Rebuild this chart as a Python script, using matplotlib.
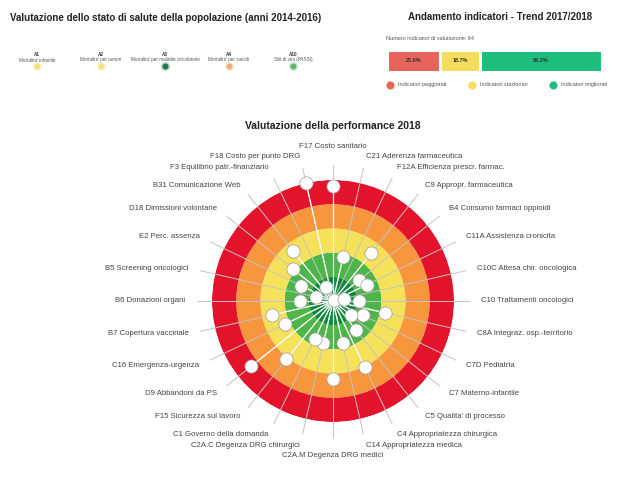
import numpy as np
from matplotlib import pyplot as plt

# dati del bersaglio (punteggio 0-5, 5 = centro)
indicatori = ['F17 Costo sanitario', 'C21 Aderenza farmaceutica', 'F12A Efficienza prescr. farmac.',
              'C9 Appropr. farmaceutica', 'B4 Consumo farmaci oppioidi', 'C11A Assistenza cronicita',
              'C10C Attesa chir. oncologica', 'C10 Trattamenti oncologici', 'C8A Integraz. osp.-territorio',
              'C7D Pediatria', 'C7 Materno-infantile', "C5 Qualita' di processo",
              'C4 Appropriatezza chirurgica', 'C14 Appropriatezza medica', 'C2A.M Degenza DRG medici',
              'C2A.C Degenza DRG chirurgici', 'C1 Governo della domanda', 'F15 Sicurezza sul lavoro',
              'D9 Abbandoni da PS', 'C16 Emergenza-urgenza', 'B7 Copertura vaccinale',
              'B6 Donazioni organi', 'B5 Screening oncologici', 'E2 Perc. assenza',
              'D18 Dimissioni volontarie', 'B31 Comunicazione Web', 'F3 Equilibrio patr.-finanziario',
              'F18 Costo per punto DRG']
punteggi = [0.25, 3.12, 4.95, 2.47, 3.64, 3.43, 4.55, 3.91, 2.81, 3.64, 4.07, 3.49, 1.99, 3.20,
            1.76, 3.23, 3.28, 1.91, 0.68, 2.79, 2.40, 3.65, 4.29, 3.55, 2.89, 2.37, 4.35, 0.0]
fasce_colori = ['#0b8a3c', '#4cb648', '#f6e25a', '#f7963c', '#e3132c']

# stato di salute
salute_codici = ['A1', 'A2', 'A3', 'A4', 'A10']
salute_desc = ["Mortalita' infantile", "Mortalita' per tumori", "Mortalita' per malattie circolatorie",
               "Mortalita' per suicidi", "Stili di vita (PASSI)"]
salute_colori = ['#efe07a', '#f0e27c', '#1f7a4c', '#e9b07c', '#5db86d']

# trend
n_indicatori = 64
trend_labels = ['Indicatori peggiorati', 'Indicatori stazionari', 'Indicatori migliorati']
trend_perc = [25.0, 18.7, 56.3]
trend_colori = ['#e6645a', '#f6dc5c', '#1dbe7c']

plt.rcParams['font.family'] = ['Liberation Sans', 'DejaVu Sans']
W, H = 624, 487
TXT = '#444444'

fig = plt.figure(figsize=(W / 100, H / 100), dpi=100)
fig.patch.set_facecolor('white')

# sfondo in coordinate pixel
ax0 = fig.add_axes([0, 0, 1, 1])
ax0.set_xlim(0, W)
ax0.set_ylim(H, 0)
ax0.axis('off')

ax0.text(10, 18, 'Valutazione dello stato di salute della popolazione (anni 2014-2016)',
         fontsize=7.0, fontweight='bold', color='#222222', va='center', ha='left')
for i, (cod, desc, col) in enumerate(zip(salute_codici, salute_desc, salute_colori)):
    x = 37 + i * 64
    ax0.text(x, 54, cod, fontsize=3.3, fontweight='bold', ha='center', va='center', color='#333333')
    ax0.text(x, 60, desc, fontsize=3.3, ha='center', va='center', color='#555555')
    ax0.scatter([x], [65.5], s=40, color=col, alpha=0.35, linewidths=0)
    ax0.scatter([x], [65.5], s=18, color=col, linewidths=0)

ax0.text(500, 17, 'Andamento indicatori - Trend 2017/2018', fontsize=7.0, fontweight='bold',
         color='#222222', ha='center', va='center')
ax0.text(386, 38, 'Numero indicatori di valutazione: %d' % n_indicatori, fontsize=4,
         color='#555555', ha='left', va='center')
for i, (lab, col) in enumerate(zip(trend_labels, trend_colori)):
    x = 390 + i * 81.5
    ax0.scatter([x], [84.5], s=34, color=col, linewidths=0)
    ax0.text(x + 8, 84.5, lab, fontsize=4, color='#555555', ha='left', va='center')

ax0.text(333, 126, 'Valutazione della performance 2018', fontsize=7.5, fontweight='bold',
         color='#222222', ha='center', va='center')

# barra del trend
axb = fig.add_axes([386.5 / W, 1 - 72 / H, (601.5 - 386.5) / W, 22 / H])
left = 0
for p, col in zip(trend_perc, trend_colori):
    axb.barh(0, p, left=left, height=1, color=col, edgecolor='white', linewidth=2.2)
    axb.text(left + p / 2, 0, '%.1f%%' % p, fontsize=4, fontweight='bold', color='#333333',
             ha='center', va='center')
    left += p
axb.set_xlim(0, 100)
axb.set_ylim(-0.5, 0.5)
axb.axis('off')

# bersaglio
cx, cy, R = 333, 301, 121
axp = fig.add_axes([(cx - R) / W, (H - cy - R) / H, 2 * R / W, 2 * R / H], polar=True)
axp.set_theta_zero_location('N')
axp.set_theta_direction(-1)
axp.set_rlim(0, 5)
axp.axis('off')

for k, col in enumerate(fasce_colori):
    axp.bar(0, 1, width=2 * np.pi, bottom=k, color=col, linewidth=0, zorder=1)

n = len(indicatori)
theta = np.arange(n) * 2 * np.pi / n
raggio = 5 - np.array(punteggi)

for th, r, lab in zip(theta, raggio, indicatori):
    axp.plot([th, th], [0, 5.62], color='#c4c4c4', lw=0.7, zorder=2, clip_on=False)
    axp.plot([th, th], [0, r], color='white', lw=0.9, zorder=3, clip_on=False)
    s = np.sin(th)
    if abs(s) < 0.05:
        axp.text(th, 6.4, lab, fontsize=5.6, color=TXT, ha='center', va='center', clip_on=False)
    else:
        axp.text(th, 6.12, lab, fontsize=5.6, color=TXT, ha='left' if s > 0 else 'right',
                 va='center', clip_on=False)

axp.scatter(theta, raggio, s=90, color='white', edgecolors='#9a9a9a', linewidths=0.5,
            zorder=5, clip_on=False)

fig.savefig('out.png', dpi=100, facecolor='white')
